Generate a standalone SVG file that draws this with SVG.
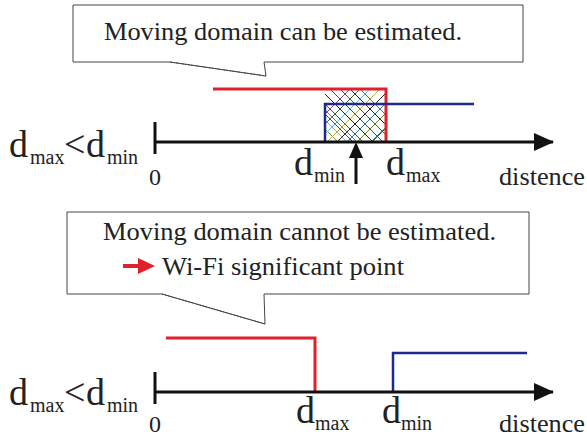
<svg xmlns="http://www.w3.org/2000/svg" width="587" height="438" viewBox="0 0 587 438">
<style>
.t{font-family:"Liberation Serif","DejaVu Serif",serif;fill:#222}
.call{fill:#fff;stroke:#444;stroke-width:1}
.ax{stroke:#111;stroke-width:3;fill:none}
.red{stroke:#e0202a;stroke-width:3;fill:none}
.blue{stroke:#1f2a8a;stroke-width:2.5;fill:none}
.h{stroke-width:1;fill:none}
.d{font-size:38px}
.s{font-size:20px}
</style>
<defs>
<marker id="ah" markerWidth="20" markerHeight="18" refX="19" refY="9" orient="auto" markerUnits="userSpaceOnUse" viewBox="0 0 20 18"><path d="M0,0 L20,9 L0,18 z" fill="#111"/></marker>
<clipPath id="hc"><rect x="325" y="89" width="61" height="53"/></clipPath>
</defs>
<rect width="587" height="438" fill="#fff"/>

<g id="callout1">
<path class="call" d="M73,5 H523 V62 H264 L266,76 L170,62 H73 Z"/>
<path d="M170,62 L266,76" stroke="#444" stroke-dasharray="2,1" fill="none"/>
<text class="t" x="104" y="40" font-size="25" textLength="358" lengthAdjust="spacingAndGlyphs">Moving domain can be estimated.</text>
</g>

<g id="hatch" clip-path="url(#hc)">
<g class="h">
<line x1="300" y1="89" x2="360" y2="149" stroke="#7a3b2e"/>
<line x1="310" y1="89" x2="370" y2="149" stroke="#1a6e3a"/>
<line x1="320" y1="89" x2="380" y2="149" stroke="#222"/>
<line x1="330" y1="89" x2="390" y2="149" stroke="#6a2d6a"/>
<line x1="340" y1="89" x2="400" y2="149" stroke="#2b4fa8"/>
<line x1="350" y1="89" x2="410" y2="149" stroke="#222"/>
<line x1="360" y1="89" x2="420" y2="149" stroke="#1a8a8a"/>
<line x1="290" y1="94" x2="345" y2="149" stroke="#8a8a2a"/>
<line x1="315" y1="100" x2="360" y2="145" stroke="#5a5ab0"/>
<line x1="325" y1="110" x2="360" y2="145" stroke="#777"/>
<line x1="325" y1="120" x2="350" y2="145" stroke="#aaa"/>
<line x1="410" y1="89" x2="350" y2="149" stroke="#6a8a2a"/>
<line x1="400" y1="89" x2="340" y2="149" stroke="#2a7a9a"/>
<line x1="390" y1="89" x2="330" y2="149" stroke="#222"/>
<line x1="380" y1="89" x2="320" y2="149" stroke="#b0b040"/>
<line x1="370" y1="89" x2="310" y2="149" stroke="#66b8d8"/>
<line x1="360" y1="89" x2="300" y2="149" stroke="#3a6a3a"/>
<line x1="350" y1="89" x2="290" y2="149" stroke="#8a4a8a"/>
<line x1="420" y1="94" x2="365" y2="149" stroke="#1a5a7a"/>
<line x1="395" y1="118" x2="365" y2="148" stroke="#2a9a6a"/>
</g>
</g>

<g id="top-lines">
<path class="red" d="M213,89 H386 V142"/>
<path class="blue" d="M474,104 H325 V142"/>
</g>

<g id="axis1">
<line class="ax" x1="155" y1="142" x2="553" y2="142" marker-end="url(#ah)"/>
<line class="ax" x1="155" y1="122" x2="155" y2="154"/>
<text class="t" x="155" y="185" font-size="24" text-anchor="middle">0</text>
<text class="t" x="499" y="185" font-size="26" textLength="86" lengthAdjust="spacingAndGlyphs">distence</text>
</g>

<g id="label1">
<text class="t d" x="9" y="157">d</text><text class="t s" x="30" y="164">max</text>
<text class="t d" x="64" y="157">&lt;</text>
<text class="t d" x="86" y="157">d</text><text class="t s" x="107" y="164">min</text>
</g>

<g id="marks1">
<text class="t d" x="294" y="175">d</text><text class="t s" x="314" y="182">min</text>
<text class="t d" x="386" y="175">d</text><text class="t s" x="406" y="182">max</text>
<line x1="356" y1="184" x2="356" y2="152" stroke="#111" stroke-width="3"/>
<path d="M349,158 L356,142 L363,158 Z" fill="#111"/>
</g>

<g id="callout2">
<path class="call" d="M67,212 H529 V294 H264 L265,324 L162,294 H67 Z"/>
<path d="M162,294 L265,324" stroke="#444" stroke-dasharray="2,1" fill="none"/>
<text class="t" x="103" y="240" font-size="25" textLength="393" lengthAdjust="spacingAndGlyphs">Moving domain cannot be estimated.</text>
<path d="M123,266 H142" stroke="#e0202a" stroke-width="4"/>
<path d="M138,258 L155,266 L138,274 Z" fill="#e0202a"/>
<text class="t" x="162" y="275" font-size="25" textLength="242" lengthAdjust="spacingAndGlyphs">Wi-Fi significant point</text>
</g>

<g id="bottom-lines">
<path class="red" d="M166,338 H315 V392"/>
<path class="blue" d="M527,353 H393 V392"/>
</g>

<g id="axis2">
<line class="ax" x1="155" y1="392" x2="553" y2="392" marker-end="url(#ah)"/>
<line class="ax" x1="155" y1="372" x2="155" y2="404"/>
<text class="t" x="155" y="432" font-size="24" text-anchor="middle">0</text>
<text class="t" x="499" y="432" font-size="26" textLength="86" lengthAdjust="spacingAndGlyphs">distence</text>
</g>

<g id="label2">
<text class="t d" x="9" y="405">d</text><text class="t s" x="30" y="412">max</text>
<text class="t d" x="64" y="405">&lt;</text>
<text class="t d" x="86" y="405">d</text><text class="t s" x="107" y="412">min</text>
</g>

<g id="marks2">
<text class="t d" x="296" y="423">d</text><text class="t s" x="315" y="430">max</text>
<text class="t d" x="382" y="423">d</text><text class="t s" x="401" y="430">min</text>
</g>
</svg>
